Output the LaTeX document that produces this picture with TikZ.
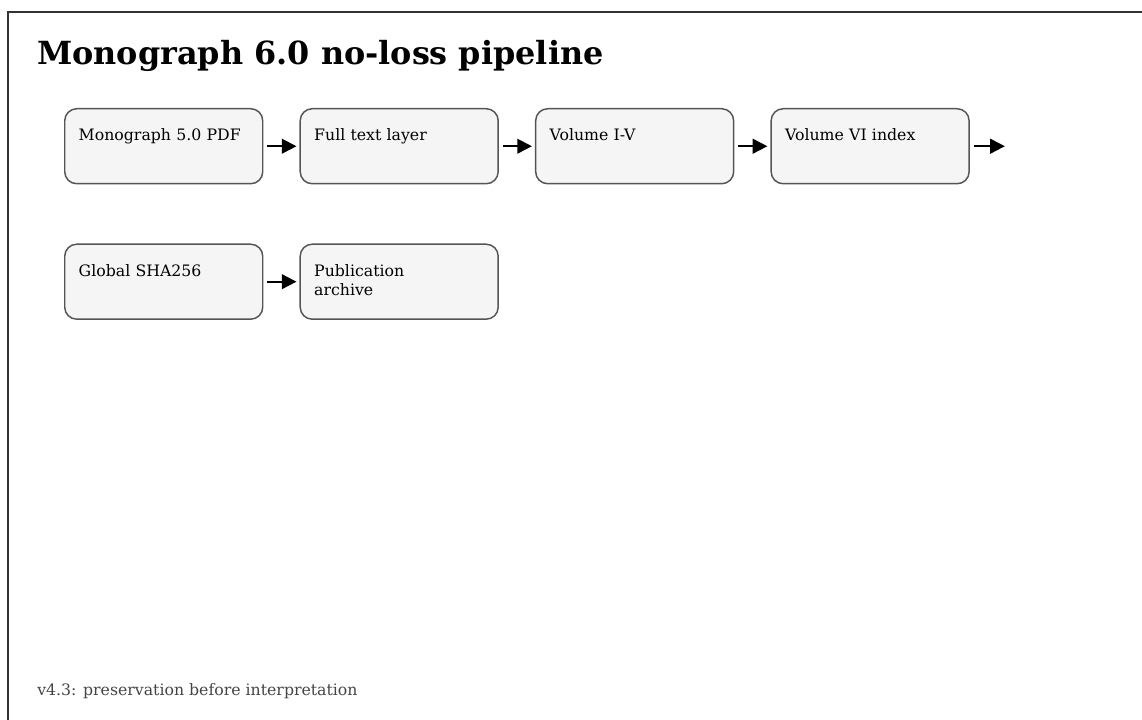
\documentclass[tikz,border=0pt]{standalone}
\usepackage{fontspec}
\setmainfont{DejaVu Serif}
\usetikzlibrary{arrows.meta}
\usetikzlibrary{positioning}

\definecolor{stagefill}{HTML}{F5F5F5}
\definecolor{stageline}{HTML}{555555}
\definecolor{notegray}{HTML}{444444}

\begin{document}
\begin{tikzpicture}[
    stage/.style={draw=stageline,fill=stagefill,line width=1.1pt,
      rounded corners=9pt,align=left,text width=127.5pt,
      inner xsep=10.5pt,inner ysep=0pt,text height=24pt,
      text depth=32.25pt,font=\fontsize{11.8}{14.5}\selectfont},
    flow/.style={line width=1.5pt,-{Triangle[length=11pt,width=11pt]},
      shorten <=3pt,shorten >=2.25pt}]
      \clip (0,0) rectangle (856.5pt,-540pt);
      \draw[line width=1.5pt,color=black!80] (6pt,-9pt) rectangle (880pt,-560pt);
      \node[anchor=base west,inner sep=0pt,font=\bfseries\fontsize{23.9}{28}\selectfont]
        (title) at (27.75pt,-48.75pt) {Monograph 6.0 no-loss pipeline};

      % first row
      \node[stage,anchor=north west] (pdf) at (48pt,-81pt) {Monograph 5.0 PDF};
      \node[stage,right=27pt of pdf] (fulltext) {Full text layer};
      \node[stage,right=27pt of fulltext] (volumes) {Volume I-V};
      \node[stage,right=27pt of volumes] (index) {Volume VI index};
      \coordinate[right=26.25pt of index] (next);

      % second row
      \node[stage,below=44.25pt of pdf] (sha) {Global SHA256};
      \node[stage,right=27pt of sha] (archive) {Publication\\archive};

      \draw[flow] (pdf) -- (fulltext);
      \draw[flow] (fulltext) -- (volumes);
      \draw[flow] (volumes) -- (index);
      \draw[flow,shorten >=0pt] (index) -- (next);
      \draw[flow] (sha) -- (archive);

      \node[anchor=base west,inner sep=0pt,color=notegray,font=\fontsize{11.8}{14}\selectfont]
        (motto) at (27.75pt,-521.25pt) {v4.3: preservation before interpretation};
\end{tikzpicture}
\end{document}
